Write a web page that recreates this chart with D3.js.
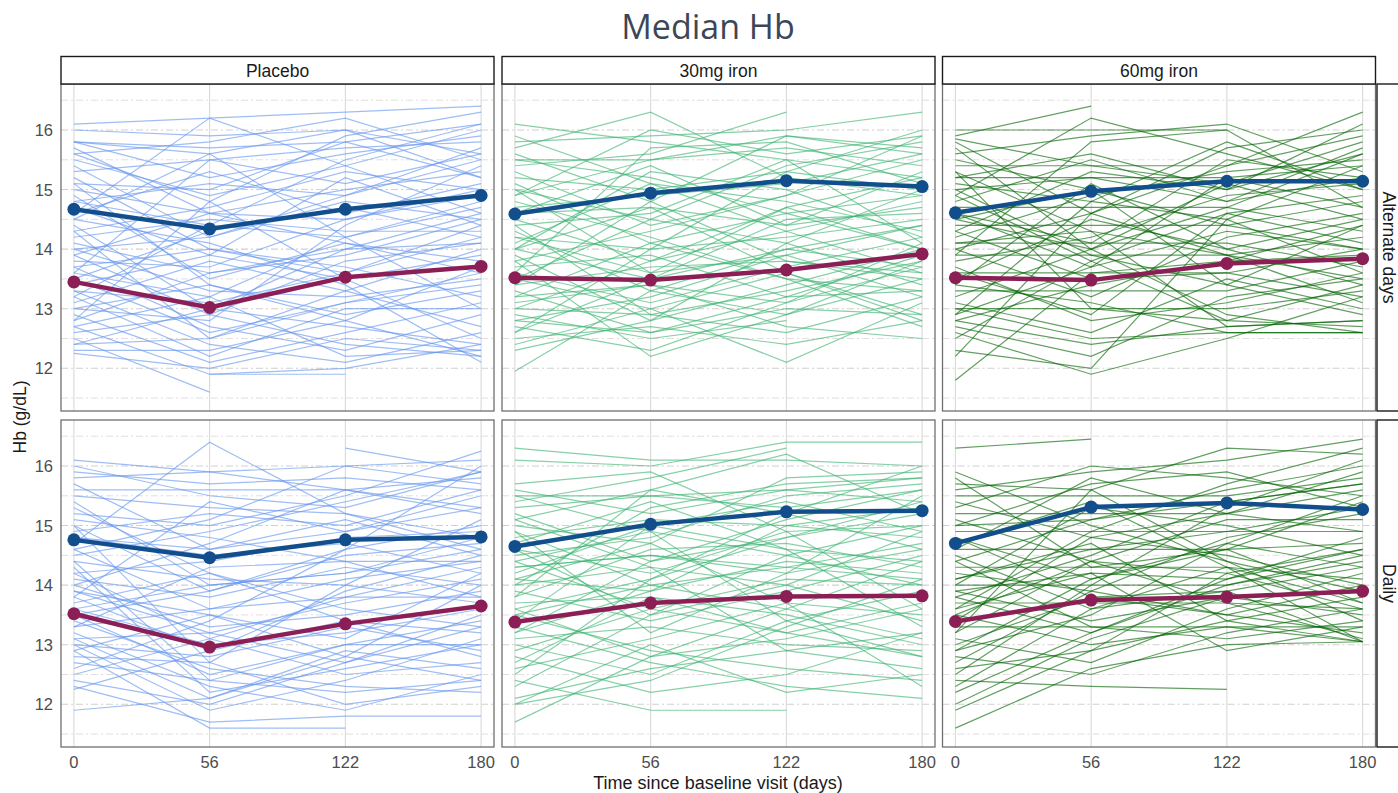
<!DOCTYPE html>
<html>
<head>
<meta charset="utf-8">
<script src="https://cdn.jsdelivr.net/npm/d3@7"></script>
<style>
  body { margin: 0; background: #fff; }
  text { font-family: "Liberation Sans", Arial, sans-serif; }
</style>
</head>
<body>
<div id="my_dataviz"></div>
<script>
// facets and axis labels
const days = ["0", "56", "122", "180"];
const arms = ["Placebo", "30mg iron", "60mg iron"];
const regimens = ["Alternate days", "Daily"];
const yTicks = [12, 13, 14, 15, 16];
const yMinor = [11.5, 12.5, 13.5, 14.5, 15.5, 16.5];

// median Hb (blue and maroon lines), one row per panel: Alt placebo, Alt 30, Alt 60, Daily placebo, Daily 30, Daily 60
const medianBlue = [
  [14.67, 14.34, 14.67, 14.90],
  [14.59, 14.94, 15.15, 15.05],
  [14.61, 14.97, 15.14, 15.14],
  [14.76, 14.46, 14.76, 14.81],
  [14.65, 15.02, 15.23, 15.25],
  [14.70, 15.31, 15.38, 15.27]
];
const medianRed = [
  [13.45, 13.02, 13.53, 13.71],
  [13.52, 13.48, 13.65, 13.92],
  [13.52, 13.48, 13.76, 13.84],
  [13.52, 12.96, 13.35, 13.65],
  [13.38, 13.70, 13.81, 13.82],
  [13.39, 13.75, 13.80, 13.90]
];

// individual subjects (values at day 0, 56, 122, 180)
const placeboAlt = [
  [16.1,16.2,16.3,16.4],[15.8,15.7,15.8,16.1],[15.8,15.2,15.6,15.9],[15.7,14.6,15.0,15.3],
  [15.6,15.8,16.2,15.5],[15.5,14.9,15.4,16.0],[15.4,14.2,14.8,14.5],[15.3,15.5,15.1,15.6],
  [15.2,14.0,13.6,14.2],[15.1,15.0,15.8,15.2],[15.0,14.6,14.5,14.9],[14.9,13.5,14.1,13.8],
  [14.8,15.1,14.9,15.5],[14.8,14.4,14.2,14.7],[14.7,13.9,15.2,14.4],[14.6,15.3,14.6,15.1],
  [14.5,14.1,13.4,12.1],[14.4,13.0,14.0,14.6],[14.3,14.7,15.3,15.0],[14.2,14.5,14.3,14.3],
  [14.1,13.6,13.9,14.5],[14.0,14.2,14.9,15.7],[14.0,13.3,13.2,13.5],[13.9,12.9,13.8,14.1],
  [13.9,14.6,14.1,13.6],[13.8,13.7,14.5,15.0],[13.7,12.7,12.3,12.9],[13.7,14.0,13.7,13.2],
  [13.6,13.2,14.2,14.8],[13.5,12.6,13.1,13.4],[13.5,14.3,14.7,14.2],[13.4,13.9,13.5,13.9],
  [13.3,12.4,12.1,12.6],[13.3,13.1,13.6,14.4],[13.2,12.2,13.0,13.0],[13.1,13.8,13.3,12.7],
  [13.0,12.8,14.4,15.4],[13.0,13.4,12.9,13.3],[12.9,12.1,12.6,13.1],[12.8,13.6,14.0,14.1],
  [12.7,11.9,11.9,null],[12.6,12.9,12.4,12.2],[12.5,11.6,null,null],[12.4,12.5,13.1,13.6],
  [12.4,13.0,12.7,12.4],[12.3,12.3,12.8,13.7],[12.25,12.0,12.5,12.3],[15.8,15.6,14.2,13.0],
  [15.6,14.8,15.9,16.3],[14.6,16.2,15.4,14.6],[13.6,15.5,15.7,15.8],[12.8,14.8,13.5,12.5],
  [15.1,13.4,12.8,12.2],[14.3,12.5,13.3,14.0],[null,11.9,12.0,12.4],[16.0,15.9,16.0,15.6],
  [14.5,15.6,16.0,15.2],[13.2,14.4,15.5,16.1],[12.7,13.2,12.2,12.3]
];
const iron30Alt = [
  [16.1,15.8,15.5,15.2],[15.8,15.9,16.0,16.3],[15.7,16.3,15.2,14.9],[15.6,14.8,15.9,15.7],
  [15.5,15.2,14.6,14.0],[15.4,15.6,16.3,null],[15.3,14.4,14.9,15.9],[15.2,15.0,15.3,15.0],
  [15.0,13.6,13.9,14.4],[14.9,15.5,15.7,15.4],[14.8,14.2,13.5,13.3],[14.7,14.9,15.1,15.6],
  [14.6,15.4,14.4,14.7],[14.5,13.8,14.7,15.2],[14.4,14.6,15.5,14.1],[14.3,13.3,12.9,13.5],
  [14.2,14.0,14.2,14.5],[14.1,15.1,14.8,14.3],[14.0,13.5,14.0,13.7],[14.0,14.7,13.6,12.8],
  [13.9,12.8,13.4,14.0],[13.8,14.3,14.9,15.5],[13.7,13.9,13.2,13.9],[13.6,13.1,13.7,14.2],
  [13.5,14.5,14.1,13.4],[13.5,13.0,12.1,13.1],[13.4,13.7,13.8,13.6],[13.3,12.6,13.0,12.9],
  [13.2,14.1,14.6,14.9],[13.1,13.4,12.7,12.5],[13.0,12.9,13.3,13.8],[13.0,13.8,14.3,14.8],
  [12.9,12.5,12.8,null],[12.8,13.2,13.9,13.2],[12.7,12.3,13.1,13.7],[12.6,13.5,14.5,14.6],
  [12.5,12.7,12.4,12.8],[12.4,13.0,13.6,12.9],[12.3,12.8,14.1,15.0],[11.95,13.3,14.0,14.4],
  [14.9,16.0,15.6,15.9],[15.9,15.1,14.3,13.6],[13.6,15.7,15.8,15.1],[14.4,12.9,12.6,13.2],
  [12.6,14.0,15.3,16.0],[15.1,14.1,13.5,12.7],[13.2,13.4,13.1,14.1],[14.6,14.7,14.4,15.3],
  [13.8,12.2,12.9,13.8],[15.5,15.5,15.9,15.6],[14.2,13.6,14.7,14.0],[13.4,14.8,13.8,13.5],
  [12.8,12.6,13.2,13.3],[14.0,15.3,15.0,14.2],[15.0,14.5,15.4,15.8]
];
const iron60Alt = [
  [16.0,16.0,16.0,null],[15.9,16.4,null,null],[15.85,15.4,15.1,14.5],[15.8,14.6,15.4,16.3],
  [15.6,15.9,16.1,15.3],[15.5,15.0,14.4,14.0],[15.4,15.4,15.4,15.9],[15.3,14.3,13.9,13.1],
  [15.2,15.6,15.0,15.6],[15.1,14.8,15.8,15.0],[15.0,15.2,15.2,15.4],[14.9,13.8,14.6,14.9],
  [14.8,15.5,14.8,15.7],[14.7,14.7,14.7,14.3],[14.6,14.1,15.5,15.2],[14.5,15.0,13.4,12.9],
  [14.4,14.4,14.4,14.8],[14.3,13.5,13.6,14.0],[14.2,14.9,15.3,15.5],[14.1,14.1,14.1,13.7],
  [14.0,13.2,14.2,14.6],[14.0,14.6,13.9,13.5],[13.9,13.9,13.9,14.2],[13.8,14.2,14.9,15.1],
  [13.7,12.8,13.1,13.6],[13.6,13.6,13.6,13.2],[13.5,14.5,14.0,14.5],[13.4,13.1,12.6,12.6],
  [13.3,13.3,13.3,13.8],[13.2,14.0,15.1,15.8],[13.1,12.6,13.5,13.0],[13.0,13.0,13.0,13.3],
  [12.9,13.7,14.3,14.0],[12.8,12.4,12.7,12.8],[12.8,13.4,13.8,14.4],[12.7,12.2,13.2,13.5],
  [12.5,13.8,12.8,12.7],[12.3,12.0,14.5,15.4],[12.2,14.6,15.7,16.0],[11.8,13.6,13.8,13.9],
  [15.7,14.0,12.9,12.6],[14.9,16.2,15.6,15.0],[13.9,15.8,16.0,14.7],[15.3,13.0,12.8,13.4],
  [12.6,11.9,12.5,13.2],[14.3,15.3,15.0,16.1],[13.6,12.9,14.6,14.1],[15.0,13.9,13.4,14.4],
  [12.9,14.8,14.5,13.6],[14.6,13.7,15.2,14.7],[13.4,15.1,14.0,13.4],[14.1,14.3,12.7,12.8],
  [13.0,12.5,12.6,12.6],[15.2,15.2,14.8,15.2],[14.5,14.0,14.7,15.6]
];
const placeboDaily = [
  [16.1,15.9,15.6,15.3],[15.8,15.9,16.0,16.1],[15.7,14.6,14.9,15.5],[15.6,15.6,15.6,15.8],
  [15.5,15.3,15.2,14.8],[15.3,14.2,13.4,12.8],[15.2,15.0,15.5,16.25],[15.1,14.8,14.4,14.4],
  [15.0,13.9,14.6,15.0],[14.9,15.2,15.0,15.6],[14.8,14.5,14.7,14.2],[14.7,16.4,15.2,14.6],
  [14.6,13.6,13.8,14.3],[14.5,14.9,15.4,15.9],[14.4,14.1,14.0,13.7],[14.3,12.2,12.6,13.0],
  [14.2,14.4,14.8,14.9],[14.1,13.8,14.3,14.0],[14.0,13.3,13.5,13.9],[14.0,14.7,15.6,15.2],
  [13.9,13.5,12.8,12.4],[13.8,12.9,13.9,14.5],[13.7,14.2,13.6,13.3],[13.6,13.0,13.2,13.6],
  [13.5,12.5,13.0,13.4],[13.5,13.9,14.5,14.7],[13.4,12.6,12.3,12.2],[13.3,13.6,14.1,14.4],
  [13.2,12.3,11.9,12.5],[13.1,13.2,13.7,14.1],[13.0,11.9,12.4,13.1],[13.0,12.8,13.3,12.9],
  [12.9,11.6,11.6,null],[12.8,12.7,14.0,15.1],[12.7,12.4,12.2,12.4],[12.5,13.1,13.8,13.8],
  [12.4,12.0,12.7,13.5],[12.3,11.7,11.8,11.8],[12.25,12.9,13.4,13.2],[11.9,12.1,12.8,14.0],
  [16.0,15.5,15.3,15.9],[15.4,14.0,14.2,14.6],[14.6,15.1,16.0,15.7],[13.8,15.4,14.9,15.3],
  [13.3,14.3,14.4,13.8],[12.6,13.4,14.6,16.0],[15.0,12.7,12.0,12.3],[14.2,13.1,12.5,12.7],
  [13.6,14.0,14.2,14.8],[null,null,16.3,15.9],[14.4,12.4,13.0,13.0],[15.9,15.7,15.8,15.6],
  [13.1,12.1,12.9,12.6],[14.8,14.6,15.1,14.5],[13.9,13.2,12.7,13.3],[12.9,13.5,13.1,14.2]
];
const iron30Daily = [
  [16.3,16.1,16.1,16.0],[16.1,16.0,16.4,16.4],[15.6,15.2,15.6,15.8],[15.5,14.9,14.5,14.0],
  [15.4,15.8,16.3,null],[15.3,15.5,15.3,15.6],[15.2,14.4,14.8,15.4],[15.1,15.6,15.2,14.6],
  [15.0,14.7,15.8,15.9],[14.9,14.0,13.6,13.1],[14.8,15.1,15.0,15.3],[14.7,15.4,14.6,14.4],
  [14.6,14.2,14.9,15.0],[14.5,14.8,15.5,15.7],[14.4,13.6,13.2,12.8],[14.3,14.5,14.2,14.6],
  [14.2,15.0,15.4,14.9],[14.1,13.9,14.4,14.2],[14.0,14.3,14.0,13.4],[14.0,15.3,15.7,15.8],
  [13.9,13.4,13.9,14.5],[13.8,14.6,14.7,14.3],[13.7,13.8,13.5,13.0],[13.6,14.1,14.8,15.2],
  [13.5,12.9,12.6,12.4],[13.5,14.0,14.3,14.7],[13.4,13.7,13.8,13.8],[13.3,12.7,12.3,12.1],
  [13.2,14.4,15.1,15.6],[13.1,13.3,13.0,12.9],[13.0,12.5,13.4,13.9],[12.9,13.6,14.1,14.0],
  [12.8,12.2,12.5,13.2],[12.6,13.1,13.7,13.5],[12.4,11.9,11.9,null],[12.3,13.5,14.5,15.0],
  [12.1,12.6,12.9,12.6],[12.0,12.4,13.3,14.1],[12.0,13.0,12.2,12.5],[11.7,12.8,13.6,14.4],
  [15.7,15.9,14.9,13.6],[14.9,13.2,14.2,15.5],[13.8,15.6,16.2,15.2],[14.4,14.9,13.4,12.8],
  [13.2,13.9,15.0,14.8],[15.1,14.3,12.9,13.2],[12.7,13.8,13.2,13.7],[14.6,13.5,14.0,14.9],
  [13.4,15.0,14.6,13.3],[15.5,15.5,15.6,15.4],[14.1,14.7,13.7,12.3],[13.6,12.8,13.1,13.6],
  [12.5,14.1,15.2,16.0],[14.3,14.5,14.3,14.1]
];
const iron60Daily = [
  [16.3,16.45,null,null],[15.9,15.0,14.4,13.4],[15.7,15.6,16.3,16.2],[15.6,15.9,16.1,16.45],
  [15.5,15.5,15.5,15.8],[15.4,14.8,15.2,15.9],[15.2,15.2,15.2,15.6],[15.1,14.4,13.7,13.1],
  [15.0,15.7,15.9,15.3],[14.9,14.9,14.9,14.9],[14.8,14.1,14.6,15.4],[14.7,15.4,14.3,13.7],
  [14.6,14.6,14.6,14.7],[14.5,13.6,13.9,14.3],[14.4,15.1,15.6,16.0],[14.3,14.3,14.3,14.1],
  [14.2,13.9,14.8,15.2],[14.1,14.7,13.4,13.05],[14.0,14.0,14.0,14.4],[14.0,15.3,15.0,14.5],
  [13.9,13.4,13.8,13.9],[13.8,14.5,15.4,15.7],[13.7,13.7,13.7,13.6],[13.6,14.2,14.1,14.8],
  [13.5,13.0,13.3,13.05],[13.4,14.8,14.5,14.0],[13.3,13.3,13.3,13.3],[13.2,14.4,15.1,15.1],
  [13.1,12.7,13.6,14.2],[13.0,13.8,13.9,13.05],[12.9,13.5,14.7,15.5],[12.8,12.5,13.2,13.6],
  [12.7,13.9,13.5,13.2],[12.6,12.9,14.2,14.6],[12.5,14.0,15.3,16.1],[12.4,12.3,12.25,null],
  [12.2,13.2,14.0,14.5],[12.0,13.1,13.8,13.5],[11.9,12.9,13.4,13.8],[11.6,12.6,13.0,13.05],
  [15.8,14.3,14.6,13.7],[14.6,15.8,15.2,14.9],[13.6,14.9,15.7,16.3],[14.4,13.3,13.1,13.4],
  [13.2,15.6,14.4,13.9],[15.3,16.0,15.8,15.5],[12.9,14.1,14.7,14.3],[14.8,13.8,13.5,14.0],
  [13.8,13.2,14.1,14.6],[12.3,13.6,14.3,13.05],[14.1,14.6,14.9,15.3],[13.5,14.4,14.2,13.6],
  [15.0,15.1,15.4,15.7],[13.9,14.2,12.9,13.3]
];

const subjects = [placeboAlt, iron30Alt, iron60Alt, placeboDaily, iron30Daily, iron60Daily];
const armColors = ["#6495ED", "#3CB371", "#006400"];

// layout
const W = 1398, H = 793;
const colX = [61, 502, 942.5];
const rowY = [84, 420];
const pw = 433, ph = 327;

const svg = d3.select("#my_dataviz")
  .append("svg")
  .attr("width", W)
  .attr("height", H);

const x = d3.scalePoint()
  .domain(days)
  .range([0, pw])
  .padding(0.095);

const y = d3.scaleLinear()
  .domain([11.283, 16.772])
  .range([ph, 0]);

const line = d3.line()
  .defined(d => d[1] != null)
  .x(d => x(d[0]))
  .y(d => y(d[1]));

const toPts = vals => days.map((dd, i) => [dd, vals[i]]);

// title
svg.append("text")
  .attr("x", 708).attr("y", 39)
  .attr("text-anchor", "middle")
  .style("font-family", "'Open Sans', sans-serif")
  .style("font-size", "34px")
  .style("fill", "#3b4756")
  .text("Median Hb");

regimens.forEach((reg, r) => {
  arms.forEach((arm, c) => {
    const k = r * 3 + c;
    const g = svg.append("g")
      .attr("transform", `translate(${colX[c]},${rowY[r]})`);

    // grid
    g.selectAll(".minor").data(yMinor).join("line")
      .attr("x1", 0).attr("x2", pw)
      .attr("y1", d => y(d)).attr("y2", d => y(d))
      .attr("stroke", "#e2dede").attr("stroke-width", 1)
      .attr("stroke-dasharray", "7,3,2,3");
    g.selectAll(".major").data(yTicks).join("line")
      .attr("x1", 0).attr("x2", pw)
      .attr("y1", d => y(d)).attr("y2", d => y(d))
      .attr("stroke", "#d4cfcf").attr("stroke-width", 1.1)
      .attr("stroke-dasharray", "7,3,2,3");
    g.selectAll(".vgrid").data(days).join("line")
      .attr("x1", d => x(d)).attr("x2", d => x(d))
      .attr("y1", 0).attr("y2", ph)
      .attr("stroke", "#d9d9d9").attr("stroke-width", 1.1);

    // individual subjects
    g.selectAll(".subj").data(subjects[k]).join("path")
      .attr("d", d => line(toPts(d)))
      .attr("fill", "none")
      .attr("stroke", armColors[c])
      .attr("stroke-width", 1.2)
      .attr("stroke-opacity", 0.62);

    // medians
    [[medianBlue[k], "#114e8b"], [medianRed[k], "#8b1f55"]].forEach(([vals, col]) => {
      g.append("path")
        .attr("d", line(toPts(vals)))
        .attr("fill", "none")
        .attr("stroke", col)
        .attr("stroke-width", 4.5)
        .attr("stroke-linejoin", "round");
      g.selectAll(null).data(toPts(vals)).join("circle")
        .attr("cx", d => x(d[0])).attr("cy", d => y(d[1]))
        .attr("r", 6.5)
        .attr("fill", col);
    });

    // panel border
    g.append("rect")
      .attr("width", pw).attr("height", ph)
      .attr("fill", "none")
      .attr("stroke", "#6f6f6f").attr("stroke-width", 1.3);

    // y tick labels on first column
    if (c === 0) {
      g.selectAll(".ylab").data(yTicks).join("text")
        .attr("x", -8).attr("y", d => y(d))
        .attr("dy", "0.36em")
        .attr("text-anchor", "end")
        .style("font-size", "16.5px")
        .style("fill", "#4d4d4d")
        .text(d => d);
    }
    // x tick labels on bottom row
    if (r === 1) {
      g.selectAll(".xlab").data(days).join("text")
        .attr("x", d => x(d)).attr("y", ph + 21)
        .attr("text-anchor", "middle")
        .style("font-size", "16.5px")
        .style("fill", "#4d4d4d")
        .text(d => d);
    }
  });
});

// top strips
arms.forEach((arm, c) => {
  svg.append("rect")
    .attr("x", colX[c]).attr("y", 56.5)
    .attr("width", pw).attr("height", 27.5)
    .attr("fill", "#fff").attr("stroke", "#1a1a1a").attr("stroke-width", 1.4);
  svg.append("text")
    .attr("x", colX[c] + pw / 2).attr("y", 76.5)
    .attr("text-anchor", "middle")
    .style("font-size", "17.5px")
    .style("fill", "#1a1a1a")
    .text(arm);
});

// right strips
regimens.forEach((reg, r) => {
  svg.append("rect")
    .attr("x", 1377).attr("y", rowY[r])
    .attr("width", 30).attr("height", ph)
    .attr("fill", "#fff").attr("stroke", "#1a1a1a").attr("stroke-width", 1.4);
  svg.append("text")
    .attr("transform", `translate(${1383},${rowY[r] + ph / 2}) rotate(90)`)
    .attr("text-anchor", "middle")
    .style("font-size", "17.5px")
    .style("fill", "#1a1a1a")
    .text(reg);
});

// axis titles
svg.append("text")
  .attr("transform", "translate(26,417) rotate(-90)")
  .attr("text-anchor", "middle")
  .style("font-size", "17.5px")
  .style("fill", "#1a1a1a")
  .text("Hb (g/dL)");

svg.append("text")
  .attr("x", 718).attr("y", 789)
  .attr("text-anchor", "middle")
  .style("font-size", "18px")
  .style("fill", "#1a1a1a")
  .text("Time since baseline visit (days)");
</script>
</body>
</html>
